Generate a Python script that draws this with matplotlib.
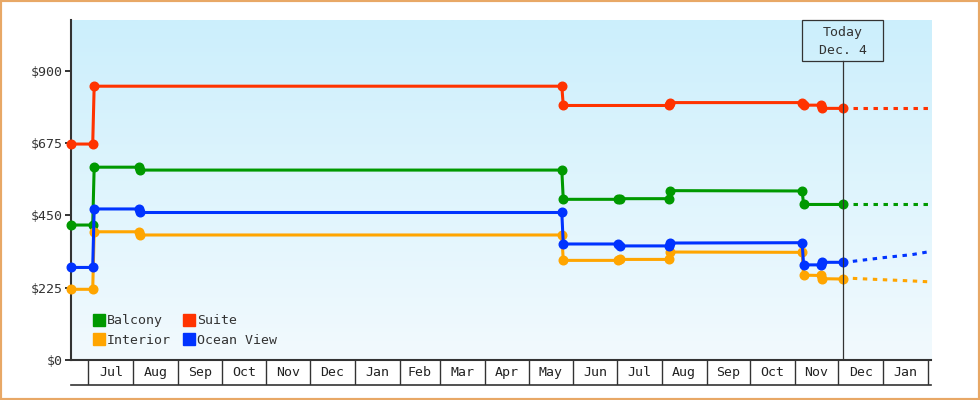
import matplotlib
matplotlib.use("Agg")
import numpy as np
import pandas as pd
import matplotlib.pyplot as plt
from matplotlib.lines import Line2D
from matplotlib.patches import Rectangle
from matplotlib.colors import LinearSegmentedColormap
from matplotlib.transforms import blended_transform_factory

plt.rcParams['font.family'] = ['DejaVu Sans Mono', 'DejaVu Sans']
plt.rcParams['lines.scale_dashes'] = False

# price history
balcony_dates = ['2016-06-19', '2016-07-04', '2016-07-05', '2016-08-05', '2016-08-06',
                 '2017-05-24', '2017-05-25', '2017-07-02', '2017-07-03', '2017-08-06',
                 '2017-08-07', '2017-11-06', '2017-11-07', '2017-12-04']
balcony_prices = [420, 420, 600, 600, 591, 591, 500, 500, 502, 502, 527, 526, 484, 484]

interior_dates = ['2016-06-19', '2016-07-04', '2016-07-05', '2016-08-05', '2016-08-06',
                  '2017-05-24', '2017-05-25', '2017-07-02', '2017-07-03', '2017-08-06',
                  '2017-08-07', '2017-11-06', '2017-11-07', '2017-11-19', '2017-11-20',
                  '2017-12-04']
interior_prices = [220, 220, 399, 399, 389, 389, 310, 310, 313, 313, 336, 335, 264, 263,
                   253, 252]

ocean_dates = ['2016-06-19', '2016-07-04', '2016-07-05', '2016-08-05', '2016-08-06',
               '2017-05-24', '2017-05-25', '2017-07-02', '2017-07-03', '2017-08-06',
               '2017-08-07', '2017-11-06', '2017-11-07', '2017-11-19', '2017-11-20',
               '2017-12-04']
ocean_prices = [288, 288, 470, 470, 459, 459, 361, 361, 355, 355, 364, 365, 296, 296,
                304, 304]

suite_dates = ['2016-06-19', '2016-07-04', '2016-07-05', '2017-05-24', '2017-05-25',
               '2017-08-06', '2017-08-07', '2017-11-06', '2017-11-07', '2017-11-19',
               '2017-11-20', '2017-12-04']
suite_prices = [672, 672, 852, 852, 792, 792, 801, 801, 793, 793, 783, 783]

# forecast (dashed)
forecast_dates = ['2017-12-11', '2017-12-31', '2018-01-21', '2018-02-03']
balcony_forecast = [484, 484, 484, 484]
interior_forecast = [254, 250, 246, 243]
ocean_forecast = [307, 318, 328, 338]
suite_forecast = [783, 783, 783, 783]

names = ['Balcony', 'Interior', 'Suite', 'Ocean View']
colors = ['#009900', '#FFA500', '#FF3300', '#0033FF']

x_start = pd.Timestamp('2016-06-19')
x_end = pd.Timestamp('2018-02-03')
today = pd.Timestamp('2017-12-04')
y_ticks = [0, 225, 450, 675, 900]
y_max = 1058

dark = '#333333'
fs = 9.5

fig = plt.figure(figsize=(9.8, 4.0), dpi=100)
W, H = 980, 400
ax = fig.add_axes([71 / W, 40 / H, 860 / W, 340 / H])

# background gradient
cmap = LinearSegmentedColormap.from_list('bg', ['#F2FAFE', '#CCEFFC'])
ax.imshow(np.linspace(0, 1, 256).reshape(-1, 1), cmap=cmap, origin='lower',
          extent=[0, 1, 0, 1], transform=ax.transAxes, aspect='auto', zorder=0)

series = [
    (balcony_dates, balcony_prices, balcony_forecast, colors[0]),
    (interior_dates, interior_prices, interior_forecast, colors[1]),
    (ocean_dates, ocean_prices, ocean_forecast, colors[3]),
    (suite_dates, suite_prices, suite_forecast, colors[2]),
]
fdates = pd.to_datetime(forecast_dates)
for d, p, fc, c in series:
    ax.plot(pd.to_datetime(d), p, color=c, lw=2.2, marker='o', ms=6.2,
            clip_on=False, zorder=4)
    ax.plot(fdates, fc, color=c, lw=2.2, dashes=(3.2, 4.0), zorder=4)

ax.set_xlim(x_start, x_end)
ax.set_ylim(0, y_max)
ax.set_yticks(y_ticks)
ax.set_yticklabels(['$' + str(v) for v in y_ticks])
ax.tick_params(axis='y', length=4.3, width=1.4, color=dark, labelcolor=dark,
               pad=2, labelsize=fs)
ax.set_xticks([])
for s in ['top', 'right']:
    ax.spines[s].set_visible(False)
for s in ['left', 'bottom']:
    ax.spines[s].set_color(dark)
    ax.spines[s].set_linewidth(1.5)

# today marker
ndays = (x_end - x_start).days
px_per_day = 860 / ndays
half = pd.Timedelta(days=40.2 / px_per_day)
box_bottom = (360 - 60.7) / 340
ax.axvline(today, ymin=0, ymax=box_bottom, color=dark, lw=0.9, zorder=5)
trans = blended_transform_factory(ax.transData, ax.transAxes)
x0 = matplotlib.dates.date2num(today - half)
x1 = matplotlib.dates.date2num(today + half)
ax.add_patch(Rectangle((x0, box_bottom), x1 - x0, 1 - box_bottom, transform=trans,
                       fill=False, edgecolor=dark, lw=0.9, zorder=5, clip_on=False))
ax.text(today, (360 - 32.3) / 340, 'Today', transform=trans, ha='center', va='center',
        fontsize=fs, color=dark)
ax.text(today, (360 - 50) / 340, 'Dec. 4', transform=trans, ha='center', va='center',
        fontsize=fs, color=dark)

# legend
handles = [Line2D([], [], marker='s', ls='none', ms=8, color=c) for c in colors]
ax.legend(handles, names, ncol=2, loc='upper left', bbox_to_anchor=(0.026, 0.134),
          frameon=False, borderpad=0, borderaxespad=0, handlelength=0.85,
          handletextpad=0.2, columnspacing=0.9, labelspacing=0.5, fontsize=fs,
          labelcolor=dark)

# month cells under the plot
ax2 = fig.add_axes([71 / W, 15 / H, 860 / W, 25 / H], sharex=ax)
ax2.set_ylim(0, 1)
ax2.patch.set_alpha(0)
ax2.set_yticks([])
ax2.tick_params(axis='x', length=0, labelbottom=False)
for s in ['top', 'left', 'right']:
    ax2.spines[s].set_visible(False)
ax2.spines['bottom'].set_color(dark)
ax2.spines['bottom'].set_linewidth(1.2)
month_starts = pd.date_range(x_start, x_end, freq='MS')
for i, m in enumerate(month_starts):
    ax2.axvline(m, color=dark, lw=1.0)
    if i + 1 < len(month_starts):
        mid = m + (month_starts[i + 1] - m) / 2
        ax2.text(mid, 0.5, m.strftime('%b'), ha='center', va='center', fontsize=fs,
                 color='#222222')
ax2.set_xlim(x_start, x_end)

fig.patches.append(Rectangle((0, 0), 1, 1, transform=fig.transFigure, fill=False,
                             edgecolor='#E8A866', lw=3))

fig.savefig('out.png', dpi=100)
